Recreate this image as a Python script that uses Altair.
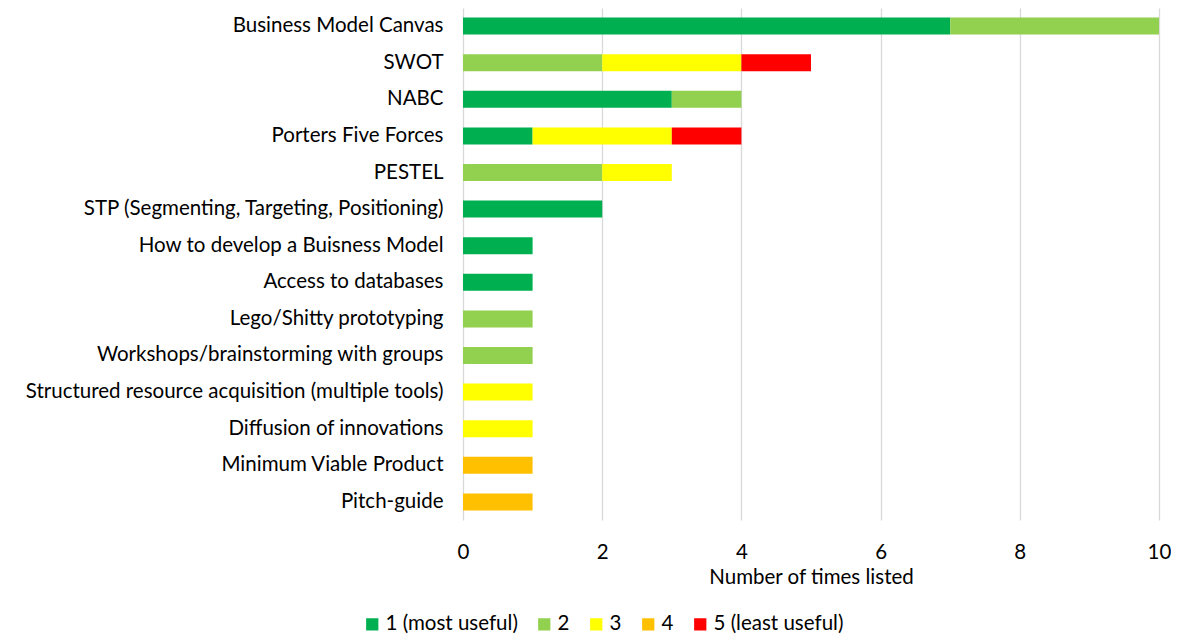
import altair as alt
import pandas as pd

tools = [
    "Business Model Canvas",
    "SWOT",
    "NABC",
    "Porters Five Forces",
    "PESTEL",
    "STP (Segmenting, Targeting, Positioning)",
    "How to develop a Buisness Model",
    "Access to databases",
    "Lego/Shitty prototyping ",
    "Workshops/brainstorming with groups",
    "Structured resource acquisition (multiple tools)",
    "Diffusion of innovations",
    "Minimum Viable Product",
    "Pitch-guide",
]
ratings = ["1 (most useful)", "2", "3", "4", "5 (least useful)"]
colors = ["#00B050", "#92D050", "#FFFF00", "#FFC000", "#FF0000"]

r1 = [7, 0, 3, 1, 0, 2, 1, 1, 0, 0, 0, 0, 0, 0]
r2 = [3, 2, 1, 0, 2, 0, 0, 0, 1, 1, 0, 0, 0, 0]
r3 = [0, 2, 0, 2, 1, 0, 0, 0, 0, 0, 1, 1, 0, 0]
r4 = [0, 0, 0, 0, 0, 0, 0, 0, 0, 0, 0, 0, 1, 1]
r5 = [0, 1, 0, 1, 0, 0, 0, 0, 0, 0, 0, 0, 0, 0]

rows = []
for k, series in enumerate([r1, r2, r3, r4, r5]):
    for t, v in zip(tools, series):
        if v > 0:
            rows.append({"tool": t, "rating": ratings[k], "order": k, "count": v})
df = pd.DataFrame(rows)

FONT = "Lato"
FS = 20.5

chart = alt.Chart(df).mark_bar(size=17).encode(
    y=alt.Y("tool:N", sort=tools, title=None,
            scale=alt.Scale(paddingInner=0.53, paddingOuter=0.26),
            axis=alt.Axis(ticks=False, domain=False, labelPadding=20,
                          labelFontSize=FS, labelFont=FONT, labelColor="#000000",
                          labelLimit=600)),
    x=alt.X("count:Q", stack="zero", title="Number of times listed",
            scale=alt.Scale(domain=[0, 10]),
            axis=alt.Axis(values=[0, 2, 4, 6, 8, 10], ticks=False, domain=False,
                          grid=True, gridColor="#D9D9D9", gridWidth=1.3,
                          labelFlush=False,
                          labelPadding=22, labelFontSize=FS, labelFont=FONT,
                          labelColor="#000000", titleFontSize=FS, titleFont=FONT,
                          titleFontWeight="normal", titleColor="#000000",
                          titlePadding=5)),
    color=alt.Color("rating:N", sort=ratings,
                    scale=alt.Scale(domain=ratings, range=colors),
                    legend=alt.Legend(title=None, orient="none", direction="horizontal",
                                      legendX=-101, legendY=606,
                                      symbolType="square", symbolSize=150,
                                      symbolStrokeWidth=0, symbolOpacity=1,
                                      labelFontSize=FS, labelFont=FONT,
                                      labelColor="#000000", columnPadding=16,
                                      labelOffset=3, padding=0)),
    order=alt.Order("order:Q"),
).properties(
    width=696, height=512,
    autosize=alt.AutoSizeParams(type="none"),
    padding={"left": 455, "top": 0, "right": 12, "bottom": 115},
).configure_view(stroke=None)

chart.save("out.html", embed_options={"renderer": "svg", "actions": False})
